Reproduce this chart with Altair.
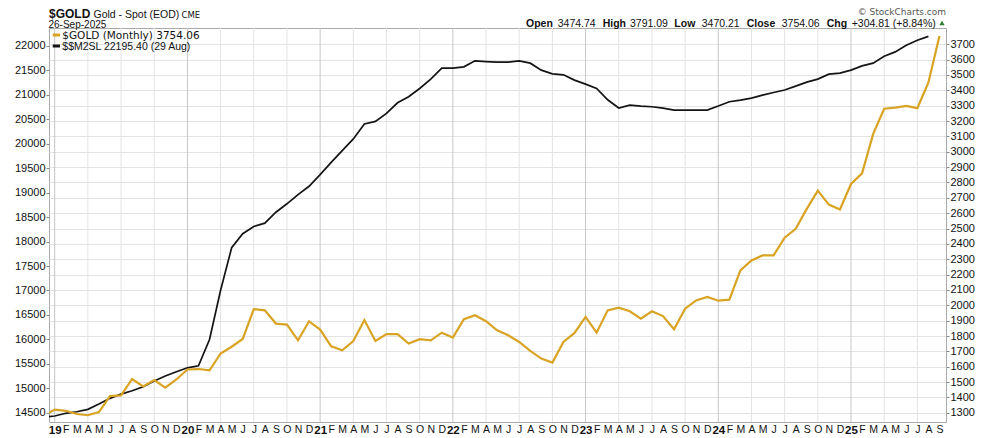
import json
import altair as alt
import pandas as pd

# ---------------- data ----------------
month_letters = ["J", "F", "M", "A", "M", "J", "J", "A", "S", "O", "N", "D"]
# month index 0 = Jan 2019 ... 80 = Sep 2025
tick_labels = []
for i in range(81):
    yr = 2019 + i // 12
    m = i % 12
    tick_labels.append(str(yr)[2:] if m == 0 else month_letters[m])

# Gold monthly close, Dec 2018 .. Sep 2025
gold_values = [
    1282,
    1321, 1313, 1292, 1284, 1305, 1409, 1413, 1520, 1472, 1513, 1464, 1517,
    1582, 1585, 1577, 1686, 1730, 1781, 1975, 1967, 1881, 1874, 1772, 1896,
    1842, 1733, 1707, 1767, 1904, 1768, 1812, 1812, 1751, 1779, 1772, 1822,
    1790, 1909, 1935, 1896, 1837, 1805, 1761, 1703, 1653, 1627, 1761, 1820,
    1924, 1822, 1967, 1985, 1961, 1913, 1961, 1930, 1844, 1978, 2032, 2054,
    2030, 2037, 2227, 2292, 2325, 2325, 2440, 2498, 2628, 2747, 2656, 2624,
    2790, 2859, 3115, 3280, 3288, 3299, 3284, 3451, 3754.06,
]
# M2 money supply, Dec 2018 .. Aug 2025
m2_values = [
    14404,
    14433, 14488, 14520, 14569, 14677, 14794, 14881, 14949, 15030, 15147, 15249, 15336,
    15418, 15459, 15997, 17003, 17874, 18160, 18309, 18376, 18600, 18772, 18961, 19131,
    19370, 19620, 19859, 20098, 20404, 20457, 20620, 20838, 20961, 21130, 21322, 21546,
    21546, 21573, 21695, 21680, 21668, 21668, 21695, 21648, 21505, 21430, 21409, 21301,
    21220, 21130, 20900, 20730, 20791, 20771, 20757, 20730, 20689, 20689, 20689, 20689,
    20771, 20859, 20893, 20934, 20995, 21049, 21098, 21179, 21261, 21322, 21424, 21444,
    21505, 21593, 21648, 21791, 21879, 22015, 22117, 22195.40,
]
gold_idx = list(range(-1, -1 + len(gold_values)))
m2_idx = list(range(-1, -1 + len(m2_values)))
grid_months = list(range(0, 81, 3))
left_ticks = list(range(14500, 22001, 500))
right_ticks = list(range(1300, 3701, 100))

gold_df = pd.DataFrame({"idx": gold_idx, "value": gold_values})
m2_df = pd.DataFrame({"idx": m2_idx, "value": m2_values})
grid_df = pd.DataFrame({"idx": grid_months})
one = pd.DataFrame({"a": [0]})

GOLD = "#d9a323"
BLACK = "#141414"
SANS = "Liberation Sans"

x_scale = alt.Scale(domain=[-0.515, 80.59], nice=False, zero=False)
x_axis = alt.Axis(
    values=list(range(81)),
    labelExpr=json.dumps(tick_labels) + "[datum.value]",
    labelOverlap=False,
    labelFlush=False,
    grid=False,
    domain=False,
    ticks=False,
    labelPadding=2,
    labelFont=SANS,
    labelColor="#111",
    labelFontSize=alt.condition("datum.value % 12 == 0", alt.value(11.5), alt.value(10.5)),
    labelFontWeight=alt.condition("datum.value % 12 == 0", alt.value("bold"), alt.value("normal")),
    title=None,
)


def xenc():
    return alt.X("idx:Q", scale=x_scale, axis=x_axis)


grid = alt.Chart(grid_df).mark_rule(strokeWidth=1).encode(
    x=xenc(),
    color=alt.condition("datum.idx % 12 == 0", alt.value("#c6c6c6"), alt.value("#e3e3e3")),
)

m2_line = alt.Chart(m2_df).mark_line(color=BLACK, strokeWidth=1.7, clip=True).encode(
    x=xenc(),
    y=alt.Y(
        "value:Q",
        scale=alt.Scale(domain=[14310, 22367], nice=False, zero=False),
        axis=alt.Axis(
            orient="left", values=left_ticks, format="d", grid=False, domain=False,
            tickSize=3, tickColor="#888", labelPadding=1, labelFont=SANS,
            labelFontSize=11, labelColor="#111", title=None,
        ),
    ),
)

gold_line = alt.Chart(gold_df).mark_line(color=GOLD, strokeWidth=2.2, clip=True).encode(
    x=xenc(),
    y=alt.Y(
        "value:Q",
        scale=alt.Scale(domain=[1240, 3806], nice=False, zero=False),
        axis=alt.Axis(
            orient="right", values=right_ticks, format="d", grid=True, gridColor="#e3e3e3",
            domain=False, tickSize=3, tickColor="#888", labelPadding=1,
            labelFont=SANS, labelFontSize=11, labelColor="#111", title=None,
        ),
    ),
)


def txt(s, x, y, size=11, weight="normal", font=SANS, color="#111", align="left"):
    return alt.Chart(one).mark_text(
        text=s, align=align, baseline="alphabetic", fontSize=size,
        fontWeight=weight, font=font, color=color,
    ).encode(x=alt.value(x), y=alt.value(y))


texts = [
    txt("$GOLD", 0, -10.5, size=12, weight="bold"),
    txt("Gold - Spot (EOD)", 44.5, -10.5, size=10.5),
    txt("CME", 132.5, -10.5, size=8.5, font="DejaVu Sans"),
    txt("26-Sep-2025", -0.5, 0, size=10),
    txt("© StockCharts.com", 897, -13, size=9, font="DejaVu Sans", color="#555", align="right"),
    txt("Open", 477, -1, size=10.5, weight="bold"),
    txt("3474.74", 508.7, -1, size=10.5),
    txt("High", 553.7, -1, size=10.5, weight="bold"),
    txt("3791.09", 581, -1, size=10.5),
    txt("Low", 625.3, -1, size=10.5, weight="bold"),
    txt("3470.21", 652.7, -1, size=10.5),
    txt("Close", 697.7, -1, size=10.5, weight="bold"),
    txt("3754.06", 732.7, -1, size=10.5),
    txt("Chg", 777.7, -1, size=10.5, weight="bold"),
    txt("+304.81 (+8.84%)", 802.7, -1, size=10.5),
    txt("$GOLD (Monthly) 3754.06", 13.3, 10.5, size=10.5, font="DejaVu Sans"),
    txt("$$M2SL 22195.40 (29 Aug)", 13.3, 22, size=10.5),
]

tri = alt.Chart(one).mark_point(shape="triangle-up", filled=True, size=28, color="#2e7d32", opacity=1).encode(
    x=alt.value(893), y=alt.value(-5)
)
sw_gold = alt.Chart(one).mark_rule(color=GOLD, strokeWidth=3).encode(
    x=alt.value(3.7), x2=alt.value(11), y=alt.value(7)
)
sw_m2 = alt.Chart(one).mark_rule(color=BLACK, strokeWidth=3).encode(
    x=alt.value(3.7), x2=alt.value(11), y=alt.value(18)
)

chart = (
    alt.layer(grid, m2_line, gold_line, sw_gold, sw_m2, tri, *texts)
    .resolve_scale(y="independent")
    .properties(
        width=897,
        height=394,
        padding={"left": 41, "top": 20, "right": 34, "bottom": 16},
        autosize=alt.AutoSizeParams(type="none"),
        background="white",
    )
    .configure_view(stroke="#a9a9a9", strokeWidth=1)
)

chart.save("out.html", embed_options={"renderer": "svg", "actions": False})
